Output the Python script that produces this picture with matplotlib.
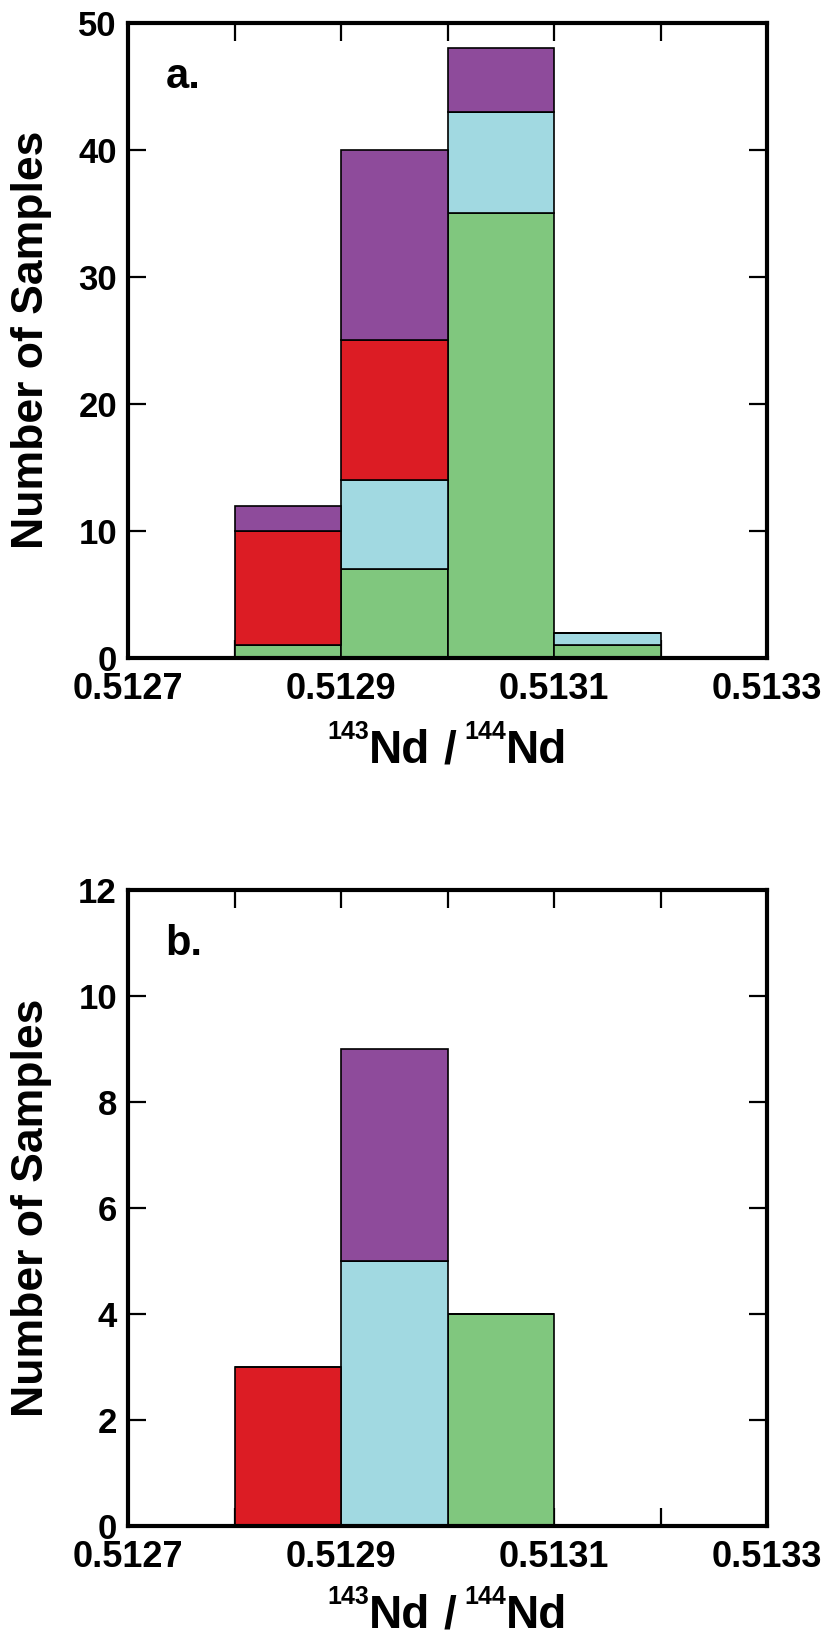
import matplotlib
matplotlib.use("Agg")
import matplotlib.pyplot as plt
from matplotlib.transforms import IdentityTransform
import numpy as np

plt.rcParams['font.family'] = ['Liberation Sans', 'DejaVu Sans']
plt.rcParams['font.weight'] = 'bold'

# bin left edges (143Nd/144Nd)
bin_left = [0.5128, 0.5129, 0.5130, 0.5131]
bin_width = 0.0001

# panel a, stacked bottom -> top
a_green = [1, 7, 35, 1]
a_cyan = [0, 7, 8, 1]
a_red = [9, 11, 0, 0]
a_purple = [2, 15, 5, 0]

# panel b
b_green = [0, 0, 4, 0]
b_cyan = [0, 5, 0, 0]
b_red = [3, 0, 0, 0]
b_purple = [0, 4, 0, 0]

colors = {'green': '#80C77E', 'cyan': '#A1D9E1', 'red': '#DC1C24', 'purple': '#8E4B9B'}

x_major = [0.5127, 0.5129, 0.5131, 0.5133]
x_major_labels = ['0.5127', '0.5129', '0.5131', '0.5133']
x_minor = [0.5128, 0.5130, 0.5132]

W, H = 830, 1635
fig = plt.figure(figsize=(W / 100, H / 100), dpi=100)
# axes boxes in pixels (left 128, right 767)
ax_a = fig.add_axes([128 / W, (H - 658) / H, 639 / W, 635 / H])
ax_b = fig.add_axes([128 / W, (H - 1526) / H, 639 / W, 636 / H])


def draw(ax, stacks, ymax, ystep, tag):
    bottom = np.zeros(len(bin_left))
    for name, vals in stacks:
        vals = np.array(vals, dtype=float)
        ax.bar(bin_left, vals, width=bin_width, bottom=bottom, align='edge',
               color=colors[name], edgecolor='black', linewidth=1.2, zorder=2)
        bottom += vals
    ax.set_axisbelow(True)
    ax.set_xlim(0.5127, 0.5133)
    ax.set_ylim(0, ymax)
    ax.set_xticks(x_major)
    ax.set_xticklabels(x_major_labels)
    ax.set_xticks(x_minor, minor=True)
    ax.set_yticks(np.arange(0, ymax + 1, ystep))
    ax.tick_params(axis='both', which='both', direction='in', top=True, right=True,
                   width=1.6, length=13)
    ax.tick_params(axis='x', labelsize=26, pad=10)
    ax.tick_params(axis='y', labelsize=25, pad=8)
    for lab in ax.get_xticklabels() + ax.get_yticklabels():
        lab.set_fontweight('bold')
    for s in ax.spines.values():
        s.set_linewidth(3)
        s.set_zorder(3)
    ax.text(0.059, 0.898, tag, transform=ax.transAxes, fontsize=30, fontweight='bold',
            va='baseline', ha='left')


draw(ax_a, [('green', a_green), ('cyan', a_cyan), ('red', a_red), ('purple', a_purple)],
     50, 10, 'a.')
draw(ax_b, [('green', b_green), ('cyan', b_cyan), ('red', b_red), ('purple', b_purple)],
     12, 2, 'b.')

# y labels, centred on each panel
for yc in [340, 1208]:
    fig.text(32 / W, (H - yc) / H, 'Number of Samples', rotation=90, fontsize=32,
             fontweight='bold', ha='center', va='center')

# x labels: 143Nd / 144Nd with small superscripts, laid out piece by piece
renderer = fig.canvas.get_renderer()
parts = [('143', 18, True, 0), ('Nd', 33, False, 0), ('/', 33, False, 13),
         ('144', 18, True, 8), ('Nd', 33, False, 0)]
for baseline_top in [763, 1628]:
    base = H - baseline_top
    texts = []
    total = 0
    for s, size, sup, gap in parts:
        t = fig.text(0, 0, s, fontsize=size, fontweight='bold', ha='left',
                     va='baseline', transform=IdentityTransform())
        w = t.get_window_extent(renderer).width
        texts.append((t, w, sup, gap))
        total += gap + w
    x = (128 + 767) / 2 - total / 2
    for t, w, sup, gap in texts:
        x += gap
        t.set_position((x, base + (24 if sup else 0)))
        x += w

fig.savefig('out.png', dpi=100)
